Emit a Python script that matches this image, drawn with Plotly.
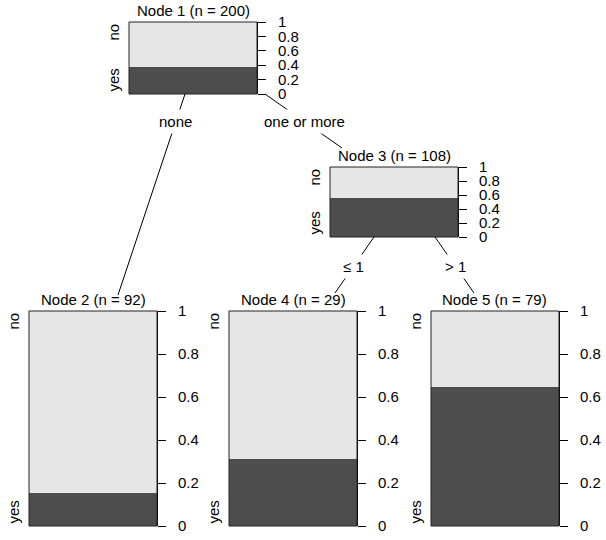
import plotly.graph_objects as go

# ---- data ----
node_names = ["Node 1", "Node 2", "Node 3", "Node 4", "Node 5"]
node_n = [200, 92, 108, 29, 79]
prop_yes = [0.37, 0.152, 0.556, 0.31, 0.646]   # share of "yes" in each node
class_labels = ["yes", "no"]
tick_vals = [0, 0.2, 0.4, 0.6, 0.8, 1]
tick_text = ["0", "0.2", "0.4", "0.6", "0.8", "1"]
edge_labels = ["none", "one or more", "\u2264 1", "> 1"]

# ---- layout (pixels in a 606x540 page) ----
W, H = 606, 540
# node boxes: left, right, top, bottom
boxes = [(129, 257, 22, 94), (29, 157, 311, 526), (330, 458, 167, 237),
         (229, 357, 311, 526), (431, 559, 311, 526)]
# edges: start (x,y), end (x,y), label y
edges = [((185, 94), (118, 295), 122),
         ((265, 94), (342, 148), 122),
         ((374, 237), (335, 293), 266),
         ((435, 237), (474, 293), 266)]

DARK = "#4D4D4D"
LIGHT = "#E6E6E6"
FONT = "Liberation Sans, Arial, Helvetica, sans-serif"
FS = 15

def px(x):
    return x / W

def py(y):
    return 1 - y / H

fig = go.Figure()
annotations = []
shapes = []
layout_axes = {}

for i, (name, n, p) in enumerate(zip(node_names, node_n, prop_yes)):
    k = "" if i == 0 else str(i + 1)
    xa, ya = "x" + k, "y" + k
    l, r, t, b = boxes[i]
    fig.add_trace(go.Bar(x=[0], y=[p], width=1, marker_color=DARK,
                         marker_line_width=0, xaxis=xa, yaxis=ya,
                         name=class_labels[0], showlegend=False, hoverinfo="skip"))
    fig.add_trace(go.Bar(x=[0], y=[1 - p], width=1, marker_color=LIGHT,
                         marker_line_width=0, xaxis=xa, yaxis=ya,
                         name=class_labels[1], showlegend=False, hoverinfo="skip"))
    layout_axes["xaxis" + k] = dict(domain=[px(l), px(r)], range=[-0.5, 0.5],
                                    visible=False, anchor=ya, fixedrange=True,
                                    automargin=False)
    layout_axes["yaxis" + k] = dict(domain=[py(b), py(t)], range=[0, 1],
                                    side="right", anchor=xa, showline=True,
                                    linecolor="black", linewidth=1,
                                    ticks="outside", ticklen=8, tickwidth=1,
                                    tickcolor="black", showgrid=False,
                                    zeroline=False, tickmode="array",
                                    tickvals=tick_vals, ticktext=tick_text,
                                    ticklabelstandoff=9, automargin=False,
                                    tickfont=dict(size=FS, color="black", family=FONT),
                                    fixedrange=True)
    shapes.append(dict(type="rect", xref="paper", yref="paper",
                       x0=px(l), x1=px(r), y0=py(b), y1=py(t),
                       line=dict(color="#222222", width=1)))
    annotations.append(dict(x=px((l + r) / 2), y=py(t - 1), xref="paper", yref="paper",
                            text=f"{name} (n = {n})", showarrow=False,
                            xanchor="center", yanchor="bottom",
                            font=dict(size=FS, color="black", family=FONT)))
    annotations.append(dict(x=px(l - 16), y=py(t), xref="paper", yref="paper",
                            text=class_labels[1], textangle=-90, showarrow=False,
                            xanchor="center", yanchor="top",
                            font=dict(size=FS, color="black", family=FONT)))
    annotations.append(dict(x=px(l - 16), y=py(b), xref="paper", yref="paper",
                            text=class_labels[0], textangle=-90, showarrow=False,
                            xanchor="center", yanchor="bottom",
                            font=dict(size=FS, color="black", family=FONT)))

for (s, e, ly), lab in zip(edges, edge_labels):
    shapes.append(dict(type="line", xref="paper", yref="paper",
                       x0=px(s[0]), y0=py(s[1]), x1=px(e[0]), y1=py(e[1]),
                       line=dict(color="black", width=1)))
    lx = s[0] + (e[0] - s[0]) * (ly - s[1]) / (e[1] - s[1])
    annotations.append(dict(x=px(lx), y=py(ly), xref="paper", yref="paper",
                            text=lab, showarrow=False, bgcolor="white",
                            borderpad=3, xanchor="center", yanchor="middle",
                            font=dict(size=FS, color="black", family=FONT)))

fig.update_layout(width=W, height=H, margin=dict(l=0, r=0, t=0, b=0, pad=0),
                  autosize=False,
                  barmode="stack", bargap=0, paper_bgcolor="white",
                  plot_bgcolor="white", showlegend=False,
                  annotations=annotations, shapes=shapes,
                  font=dict(family=FONT, size=FS, color="black"),
                  **layout_axes)

fig.write_html("out.html", config={"displayModeBar": False},
               post_script="document.body.style.margin='0';"
                           "document.body.style.overflow='hidden';"
                           "document.documentElement.style.overflow='hidden';")
